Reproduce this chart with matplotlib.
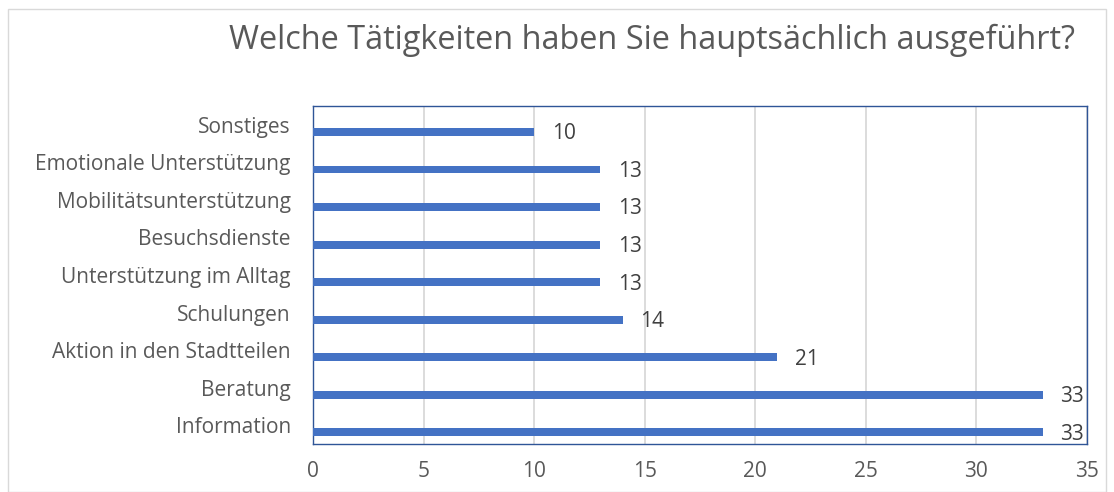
import matplotlib
matplotlib.use("Agg")
import matplotlib.pyplot as plt
from matplotlib.patches import Rectangle

plt.rcParams['font.family'] = ['Open Sans', 'DejaVu Sans']

# data, top to bottom as shown in the chart
categories = ['Sonstiges', 'Emotionale Unterstützung', 'Mobilitätsunterstützung',
              'Besuchsdienste', 'Unterstützung im Alltag', 'Schulungen',
              'Aktion in den Stadtteilen', 'Beratung', 'Information']
values = [10, 13, 13, 13, 13, 14, 21, 33, 33]
xticks = [0, 5, 10, 15, 20, 25, 30, 35]

title = 'Welche Tätigkeiten haben Sie hauptsächlich ausgeführt?'
bar_color = '#4472C4'
text_color = '#595959'

fig = plt.figure(figsize=(11.14, 4.92), dpi=100)
# light outer frame like the Excel chart area
fig.patches.append(Rectangle((8 / 1114, 0), 1 - 16 / 1114, 1 - 9 / 492,
                             transform=fig.transFigure, fill=False,
                             edgecolor='#D9D9D9', linewidth=1))

ax = fig.add_axes([313 / 1114, 1 - 444 / 492, (1087 - 313) / 1114, (444 - 106) / 492])

n = len(categories)
ypos = [n - 1 - i for i in range(n)]
offset = 0.19  # bars sit a bit below the category centre
ax.barh([y - offset for y in ypos], values, height=0.21, color=bar_color, zorder=3)

for y, v in zip(ypos, values):
    ax.text(v + 0.8, y - offset - 0.05, str(v), va='center', ha='left',
            fontsize=15, color='#404040', zorder=4)

ax.set_ylim(-0.5, n - 0.5)
ax.set_xlim(0, 35)
ax.set_xticks(xticks)
ax.set_yticks(ypos)
ax.set_yticklabels(categories)
ax.tick_params(axis='both', length=0, labelsize=15, colors=text_color)
ax.tick_params(axis='x', pad=12)
ax.tick_params(axis='y', pad=16)
ax.grid(axis='x', color='#D9D9D9', linewidth=1.3, zorder=0)
for s in ax.spines.values():
    s.set_color('#2F5597')
    s.set_linewidth(1)

fig.text(0.585, 1 - 40 / 492, title, ha='center', va='center',
         fontsize=23.4, color=text_color)

fig.savefig('out.png', dpi=100)
